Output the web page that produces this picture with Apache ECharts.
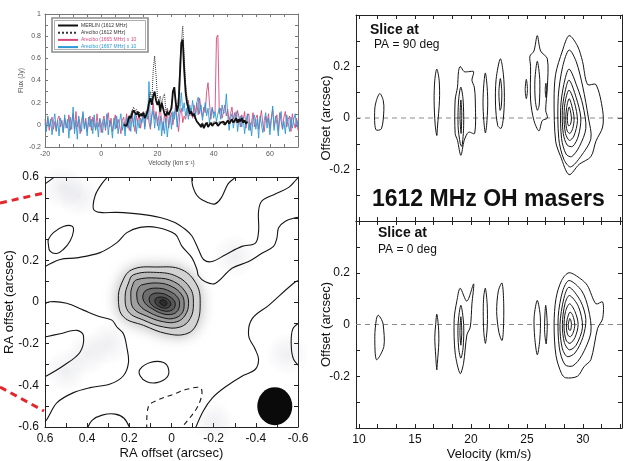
<!DOCTYPE html>
<html>
<head>
<meta charset="utf-8">
<title>1612 MHz OH masers</title>
<script src="https://cdn.jsdelivr.net/npm/echarts@6/dist/echarts.min.js"></script>
<style>
  html, body { margin: 0; padding: 0; background: #fff; }
  #chart { width: 624px; height: 461px; }
</style>
</head>
<body>
<div id="chart"></div>
<script>
// ---- spectrum (top left) ----
// channel grid of the single dish spectra
const velStart = -20, velStep = 0.5;
const pink1665 = [
  0.05,-0.03,0.06,-0.05,0.02,0.07,-0.04,0.03,-0.06,0.05,0.08,-0.02,0.04,-0.07,0.06,0.0,-0.03,0.09,-0.05,0.03,0.1,
  -0.04,0.12,-0.02,0.05,-0.08,0.04,0.1,-0.03,0.06,-0.06,0.02,0.08,-0.05,0.07,0.01,-0.04,0.1,-0.02,0.05,-0.07,
  0.03,0.08,-0.05,0.04,0.11,-0.02,0.06,-0.06,0.02,0.09,-0.03,0.05,0.0,-0.08,0.04,0.07,-0.04,0.1,0.02,-0.05,
  0.06,0.13,0.01,-0.06,0.08,0.03,0.1,-0.03,0.05,0.12,-0.02,0.07,0.15,0.02,-0.04,0.09,0.2,0.05,0.12,-0.01,
  0.08,0.16,0.03,-0.05,0.1,0.02,0.14,-0.03,0.06,0.11,0.0,0.09,0.18,0.04,-0.06,0.1,0.15,0.02,0.08,0.05,
  0.12,0.22,0.08,0.15,0.06,0.18,0.1,0.2,0.09,0.24,0.14,0.07,0.16,0.11,0.3,0.38,0.2,0.05,0.15,0.1,
  0.12,0.79,0.81,0.1,0.15,0.06,0.12,0.18,0.08,0.14,0.03,0.1,0.16,0.05,0.11,0.02,0.13,0.07,-0.02,0.09,
  0.04,0.12,-0.03,0.07,0.1,-0.05,0.03,0.11,-0.02,0.06,0.09,-0.04,0.05,0.13,0.0,-0.06,0.08,0.02,0.1,-0.03,
  0.06,0.14,-0.02,0.04,0.09,-0.05,0.11,0.03,-0.04,0.07,0.12,-0.02,0.05,0.08,-0.06,0.1,0.02,-0.03,0.06,-0.05
];
const blue1667 = [
  0.02,-0.06,0.08,-0.02,0.05,-0.09,0.03,0.1,-0.05,0.04,-0.1,0.06,0.01,-0.07,0.09,-0.03,0.05,-0.12,0.07,-0.04,0.16,
  -0.08,0.04,-0.13,0.08,0.0,-0.06,0.12,-0.04,0.03,-0.1,0.07,-0.02,0.05,-0.08,0.09,-0.05,0.02,-0.11,0.06,0.01,
  -0.07,0.05,-0.03,0.1,-0.09,0.04,0.0,-0.12,0.06,-0.04,0.08,-0.08,0.03,0.1,-0.05,0.02,-0.1,0.07,-0.03,0.05,
  -0.06,0.08,-0.02,0.1,-0.08,0.04,-0.03,0.06,0.02,0.1,-0.04,0.12,0.05,0.39,-0.02,0.08,0.13,-0.03,0.1,0.05,
  -0.05,0.08,-0.1,0.03,-0.08,0.06,-0.11,0.02,0.09,-0.04,0.12,0.05,0.15,-0.02,0.1,0.15,0.29,0.12,0.2,0.08,
  0.15,0.05,0.18,0.1,0.22,0.12,0.06,0.2,0.25,0.1,0.18,0.04,0.12,0.2,0.08,0.15,0.02,0.1,0.16,0.06,
  0.12,0.03,0.1,0.15,0.05,0.18,0.1,0.12,0.28,0.09,-0.05,0.06,0.1,-0.03,0.05,0.12,-0.06,0.04,0.08,-0.02,
  0.07,-0.08,0.03,0.1,-0.05,0.02,-0.1,0.06,0.09,-0.04,0.05,-0.12,0.08,0.0,-0.07,0.04,0.11,-0.03,0.06,-0.09,
  0.04,0.17,-0.05,0.08,0.01,-0.1,0.06,0.12,-0.04,0.03,-0.08,0.09,0.02,-0.06,0.07,-0.03,0.05,0.1,-0.02,0.04
];
const merlinStart = 8;
const merlin1612 = [
  0.0,0.01,-0.01,0.03,0.08,0.06,0.1,0.13,0.11,0.09,
  0.12,0.07,0.1,0.08,0.11,0.06,0.09,0.12,0.2,0.24,
  0.18,0.26,0.3,0.22,0.18,0.22,0.12,0.2,0.15,0.1,
  0.08,0.12,0.09,0.1,0.15,0.3,0.34,0.2,0.12,0.18,
  0.45,0.74,0.77,0.5,0.3,0.2,0.15,0.1,0.12,0.08,
  0.1,0.06,0.03,0.02,0.0,-0.02,0.01,-0.03,0.0,0.02,
  -0.02,0.0,0.02,-0.01,0.01,0.0,0.02,-0.01,0.0,0.02,
  0.01,0.03,0.0,0.02,0.04,0.01,0.03,0.05,0.02,0.04,
  0.06,0.02,0.05,0.03,0.06,0.02,0.04,0.01,0.03
];
const areciboStart = 10;
const arecibo1612 = [
  0.05,0.1,0.13,0.16,0.12,0.14,0.1,0.12,0.08,0.11,
  0.09,0.1,0.12,0.15,0.22,0.3,0.2,0.5,0.62,0.45,
  0.25,0.22,0.26,0.18,0.25,0.28,0.12,0.15,0.1,0.12,
  0.18,0.28,0.3,0.22,0.15,0.25,0.55,0.74,0.89,0.62,
  0.38,0.25,0.18,0.14,0.12,0.1,0.08,0.05,0.04,0.02,
  0.01,0.0,0.02,-0.01,0.01,0.0,0.02,0.01,0.0,0.02,
  0.01,0.03,0.0,0.02,0.01,0.03,0.02,0.0,0.03,0.01,
  0.04,0.02,0.03,0.05,0.02,0.04,0.03,0.05,0.02,0.04,
  0.03
];

// ---- MERLIN map (bottom left), RA / Dec offsets in arcsec ----
const blobLevels = [
  [[0.188,0.155],[0.07,0.168],[-0.049,0.155],[-0.12,0.082],[-0.136,-0.006],[-0.12,-0.104],[-0.073,-0.152],[0.022,-0.152],[0.133,-0.112],[0.228,-0.071],[0.252,0.01],[0.236,0.091]],
  [[0.18,0.131],[0.07,0.142],[-0.025,0.123],[-0.089,0.066],[-0.104,-0.006],[-0.089,-0.079],[-0.041,-0.12],[0.038,-0.12],[0.133,-0.087],[0.204,-0.047],[0.22,0.026],[0.204,0.091]],
  [[0.165,0.107],[0.07,0.115],[-0.009,0.099],[-0.065,0.05],[-0.081,-0.006],[-0.065,-0.063],[-0.025,-0.095],[0.038,-0.095],[0.117,-0.068],[0.18,-0.031],[0.193,0.034],[0.184,0.082]],
  [[0.141,0.082],[0.062,0.091],[-0.002,0.074],[-0.049,0.034],[-0.06,-0.01],[-0.049,-0.055],[-0.009,-0.079],[0.038,-0.076],[0.101,-0.052],[0.152,-0.015],[0.165,0.034],[0.157,0.066]],
  [[0.117,0.058],[0.057,0.066],[0.006,0.05],[-0.03,0.021],[-0.038,-0.015],[-0.025,-0.047],[0.006,-0.06],[0.046,-0.055],[0.089,-0.034],[0.125,-0.006],[0.136,0.029]],
  [[0.093,0.037],[0.051,0.042],[0.014,0.029],[-0.013,0.006],[-0.017,-0.019],[-0.002,-0.039],[0.03,-0.044],[0.062,-0.034],[0.093,-0.015],[0.106,0.013]],
  [[0.073,0.018],[0.041,0.023],[0.014,0.01],[0.003,-0.01],[0.014,-0.026],[0.038,-0.029],[0.063,-0.019],[0.078,-0.002]],
  [[0.054,0.006],[0.035,0.01],[0.022,-0.003],[0.027,-0.016],[0.043,-0.016],[0.054,-0.006]]
];
const blobShades = ['#d6d6d6','#bababa','#a0a0a0','#878787','#6e6e6e','#575757','#414141','#2c2c2c'];
const mapPaths = [
  [[0.285,0.62],[0.33,0.568],[0.362,0.511],[0.37,0.446],[0.339,0.43],[0.259,0.43],[0.149,0.422],[0.054,0.406],[-0.016,0.382],[-0.065,0.349],[-0.097,0.317],[-0.128,0.252],[-0.152,0.204],[-0.192,0.194],[-0.256,0.227],[-0.334,0.267],[-0.398,0.283],[-0.413,0.34],[-0.413,0.437],[-0.429,0.485],[-0.492,0.518],[-0.556,0.55],[-0.587,0.582],[-0.61,0.61]],
  [[-0.097,0.62],[-0.1,0.559],[-0.128,0.503],[-0.176,0.476],[-0.207,0.471],[-0.236,0.5],[-0.269,0.568],[-0.302,0.597],[-0.33,0.62]],
  [[0.61,0.164],[0.528,0.204],[0.449,0.212],[0.339,0.237],[0.259,0.285],[0.212,0.333],[0.149,0.358],[0.069,0.358],[-0.018,0.325],[-0.049,0.268],[-0.097,0.212],[-0.121,0.155],[-0.128,0.126],[-0.16,0.097],[-0.207,0.089],[-0.287,0.162],[-0.366,0.194],[-0.429,0.234],[-0.484,0.267],[-0.5,0.307],[-0.508,0.356],[-0.54,0.388],[-0.588,0.404],[-0.61,0.408]],
  [[-0.61,0.102],[-0.588,0.097],[-0.461,-0.016],[-0.382,-0.081],[-0.366,-0.162],[-0.397,-0.227],[-0.413,-0.275],[-0.397,-0.324],[-0.334,-0.356],[-0.255,-0.408],[-0.193,-0.461],[-0.15,-0.524],[-0.112,-0.61]],
  [[0.61,-0.015],[0.576,0.001],[0.497,-0.006],[0.418,-0.039],[0.339,-0.071],[0.283,-0.087],[0.259,-0.12],[0.228,-0.152],[0.212,-0.217],[0.204,-0.29],[0.228,-0.354],[0.291,-0.394],[0.386,-0.411],[0.465,-0.435],[0.544,-0.484],[0.592,-0.565],[0.61,-0.58]],
  [[0.61,-0.17],[0.528,-0.152],[0.449,-0.136],[0.418,-0.16],[0.434,-0.241],[0.513,-0.306],[0.592,-0.354],[0.61,-0.36]],
  [[0.4,-0.61],[0.377,-0.568],[0.329,-0.543],[0.267,-0.538],[0.225,-0.558],[0.196,-0.61]],
  [[0.61,0.56],[0.575,0.585],[0.545,0.61]],
  [[-0.61,-0.097],[-0.575,-0.13],[-0.568,-0.209],[-0.579,-0.275],[-0.61,-0.311]]
];
const mapLoops = [
  [[0.584,0.3],[0.56,0.333],[0.513,0.362],[0.473,0.365],[0.465,0.341],[0.481,0.293],[0.513,0.252],[0.544,0.233],[0.576,0.244],[0.584,0.277]],
  [[0.149,-0.322],[0.101,-0.29],[0.038,-0.29],[0.014,-0.322],[0.022,-0.362],[0.069,-0.387],[0.117,-0.383],[0.149,-0.354]]
];
const mapNegative = [
  [[0.117,-0.61],[0.109,-0.5],[0.069,-0.472],[-0.009,-0.443],[-0.073,-0.419],[-0.136,-0.411],[-0.144,-0.443],[-0.121,-0.508],[-0.073,-0.573],[-0.041,-0.61]]
];
// faint background emission patches
const mapHaze = [[0.52,0.55],[0.44,0.51],[0.5,-0.33],[0.4,-0.25],[0.3,-0.2],[-0.2,-0.58],[-0.3,0.22],[-0.55,-0.25]];
const beam = [[-0.49,-0.5]];

// ---- position-velocity slices (right), velocity km/s vs offset arcsec ----
const slicePA90 = [
  [[11.86,0.095],[12.16,0.069],[12.22,0.03],[12.0,-0.042],[11.5,-0.045],[11.4,0.03],[11.56,0.069]],
  [[16.95,0.19],[17.16,0.147],[17.19,0.069],[17.01,-0.035],[16.95,-0.068],[16.8,-0.023],[16.71,0.069],[16.77,0.147]],
  [[19.04,0.2],[19.4,0.18],[19.79,0.18],[20.24,0.18],[20.09,0.147],[20.3,0.12],[20.39,0.07],[20.33,-0.06],[19.79,-0.055],[19.4,-0.087],[19.1,-0.145],[18.8,-0.087],[18.59,-0.06],[18.59,0.07],[18.8,0.12],[18.89,0.18]],
  [[19.1,0.12],[19.3,0.07],[19.35,-0.03],[19.2,-0.11],[19.05,-0.1],[18.85,-0.03],[18.9,0.07]],
  [[19.1,0.07],[19.18,0.02],[19.12,-0.06],[19.03,0.0]],
  [[21.29,0.175],[21.45,0.12],[21.5,0.05],[21.4,-0.03],[21.29,-0.058],[21.15,-0.01],[21.08,0.06],[21.15,0.13]],
  [[22.63,0.23],[22.9,0.17],[22.99,0.08],[22.9,0.0],[22.7,-0.04],[22.4,-0.03],[22.2,0.05],[22.25,0.15]],
  [[22.63,0.153],[22.76,0.1],[22.7,0.04],[22.6,0.03],[22.5,0.1]],
  [[25.93,0.32],[26.23,0.26],[26.83,0.23],[26.83,0.12],[26.68,0.03],[26.83,0.0],[26.38,-0.01],[26.08,-0.05],[25.63,-0.01],[25.33,0.07],[25.33,0.2],[25.27,0.24],[25.63,0.26]],
  [[25.93,0.22],[26.15,0.15],[26.1,0.05],[25.93,0.03],[25.75,0.07],[25.72,0.15]],
  [[24.95,0.15],[25.05,0.11],[24.95,0.075],[24.85,0.11]],
  [[26.7,0.135],[26.76,0.11],[26.7,0.08],[26.64,0.11]],
  [[28.77,0.32],[28.17,0.26],[27.57,0.17],[27.43,0.07],[27.57,-0.09],[28.02,-0.15],[28.77,-0.22],[29.67,-0.18],[30.72,-0.15],[31.17,-0.09],[31.77,-0.035],[31.77,0.03],[31.17,0.13],[30.42,0.13],[29.97,0.22],[29.52,0.28]],
  [[28.77,0.264],[28.2,0.2],[27.8,0.08],[27.85,-0.08],[28.3,-0.16],[28.9,-0.19],[29.8,-0.15],[30.72,-0.08],[30.5,0.0],[30.0,0.12],[29.4,0.22]],
  [[28.77,0.19],[28.3,0.13],[28.02,0.04],[28.1,-0.08],[28.5,-0.14],[29.0,-0.15],[29.7,-0.11],[30.27,-0.04],[30.0,0.05],[29.5,0.12]],
  [[28.77,0.147],[28.4,0.1],[28.17,0.03],[28.25,-0.06],[28.6,-0.105],[29.1,-0.11],[29.6,-0.07],[29.82,0.0],[29.4,0.08]],
  [[28.77,0.108],[28.45,0.07],[28.32,0.01],[28.45,-0.06],[28.8,-0.087],[29.2,-0.07],[29.52,-0.01],[29.25,0.06]],
  [[28.77,0.075],[28.55,0.04],[28.47,-0.01],[28.6,-0.05],[28.85,-0.06],[29.1,-0.04],[29.22,0.0],[29.0,0.05]],
  [[28.78,0.043],[28.65,0.02],[28.62,-0.01],[28.72,-0.03],[28.9,-0.025],[28.98,0.0],[28.88,0.03]]
];
const slicePA0 = [
  [[11.71,0.036],[12.0,0.02],[12.16,0.0],[12.22,-0.085],[11.56,-0.136],[11.41,-0.047],[11.55,0.02]],
  [[16.95,0.04],[17.1,-0.01],[17.13,-0.07],[17.0,-0.15],[16.95,-0.175],[16.85,-0.12],[16.77,-0.05],[16.85,0.0]],
  [[19.04,0.14],[19.64,0.09],[20.24,0.157],[20.09,0.08],[19.94,-0.01],[19.64,-0.04],[19.34,-0.15],[19.04,-0.19],[18.59,-0.11],[18.5,0.02],[18.74,0.09]],
  [[19.1,0.074],[19.35,0.0],[19.3,-0.09],[19.1,-0.13],[18.9,-0.09],[18.85,0.0]],
  [[19.1,0.03],[19.18,-0.03],[19.1,-0.08],[19.02,-0.03]],
  [[21.29,0.14],[21.45,0.08],[21.47,0.0],[21.38,-0.05],[21.29,-0.073],[21.15,-0.03],[21.1,0.05],[21.15,0.11]],
  [[22.78,0.16],[22.93,0.08],[22.9,-0.02],[22.78,-0.062],[22.5,-0.03],[22.3,0.05],[22.45,0.13]],
  [[25.93,0.093],[26.2,0.03],[26.15,-0.06],[25.93,-0.117],[25.7,-0.05],[25.65,0.03]],
  [[26.68,0.074],[26.82,0.0],[26.72,-0.075],[26.58,-0.02]],
  [[28.77,0.2],[28.1,0.17],[27.6,0.1],[27.43,0.0],[27.6,-0.12],[28.1,-0.19],[28.47,-0.206],[29.52,-0.2],[30.12,-0.162],[30.72,-0.136],[31.32,-0.015],[31.77,0.023],[31.77,0.087],[31.17,0.08],[30.42,0.15],[29.82,0.176]],
  [[28.77,0.17],[28.2,0.13],[27.8,0.03],[27.9,-0.09],[28.4,-0.155],[29.1,-0.16],[29.9,-0.12],[30.72,-0.03],[30.5,0.06],[29.9,0.13]],
  [[28.77,0.144],[28.3,0.1],[27.96,0.0],[28.15,-0.09],[28.6,-0.124],[29.3,-0.11],[30.0,-0.05],[30.27,0.02],[29.8,0.09]],
  [[28.8,0.112],[28.4,0.08],[28.17,0.0],[28.35,-0.07],[28.8,-0.098],[29.4,-0.08],[29.97,-0.01],[29.6,0.07]],
  [[28.82,0.08],[28.45,0.05],[28.32,-0.01],[28.5,-0.06],[28.85,-0.073],[29.3,-0.05],[29.58,0.0],[29.3,0.05]],
  [[28.85,0.048],[28.6,0.02],[28.53,-0.01],[28.65,-0.04],[28.9,-0.047],[29.15,-0.03],[29.28,0.0],[29.1,0.035]],
  [[28.83,0.023],[28.7,0.0],[28.75,-0.02],[28.9,-0.022],[28.98,0.0],[28.92,0.018]]
];
const velRange = [9.73, 33.5];
const velLabels = [10, 15, 20, 25, 30];
const velTickStep = 5 / 3;

const FONT = '"Liberation Sans", Arial, Helvetica, sans-serif';

const velTicks = [];
for (let v = velLabels[0]; v < velRange[1]; v += velTickStep) velTicks.push(+v.toFixed(3));

function axis(gridIndex, position, range, o) {
  const c = o.color || '#222';
  return {
    type: 'value', gridIndex: gridIndex, position: position,
    min: range[0], max: range[1], interval: o.interval, inverse: !!o.inverse,
    splitLine: { show: false },
    axisLine: { onZero: false, lineStyle: { color: c, width: 1 } },
    axisTick: { inside: true, length: o.tickLen || 4, lineStyle: { color: c }, customValues: o.tickValues },
    minorTick: { show: !!o.minor, splitNumber: o.minor || 2, length: o.tickLen || 4, lineStyle: { color: c } },
    axisLabel: {
      show: !!o.labels, color: o.labelColor || '#111', fontSize: o.fontSize || 12, fontFamily: FONT,
      margin: o.margin || 6, showMinLabel: o.showMin !== false, showMaxLabel: o.showMax !== false,
      customValues: o.labelValues
    },
    name: o.name || '', nameLocation: 'middle', nameGap: o.nameGap || 20, nameMoveOverlap: false,
    nameTextStyle: { color: o.labelColor || '#111', fontSize: o.nameSize || 13, fontFamily: FONT }
  };
}

function contours(axisIndex, shapes, o) {
  return {
    type: 'custom', xAxisIndex: axisIndex, yAxisIndex: axisIndex, clip: true, silent: true,
    z: o.z || 3,
    data: shapes.map(s => s[0]),
    renderItem: function (params, api) {
      const pts = shapes[params.dataIndex].map(p => api.coord(p));
      const style = {
        fill: o.fills ? o.fills[params.dataIndex] : null,
        stroke: '#151515', lineWidth: o.width || 1, lineDash: o.dash || null
      };
      if (o.glow && params.dataIndex === 0) {
        style.shadowBlur = 14;
        style.shadowColor = 'rgba(0,0,0,0.3)';
      }
      return {
        type: o.closed ? 'polygon' : 'polyline',
        shape: { points: pts, smooth: o.smooth == null ? 0.35 : o.smooth },
        style: style
      };
    }
  };
}

function spectrum(name, values, start, color, width, type) {
  return {
    type: 'line', name: name, xAxisIndex: 0, yAxisIndex: 0,
    data: values.map((f, i) => [start + i * velStep, f]),
    symbol: 'none', showSymbol: false, silent: true,
    lineStyle: { color: color, width: width, type: type || 'solid' },
    itemStyle: { color: color }
  };
}

const chart = echarts.init(document.getElementById('chart'), null, { renderer: 'canvas' });

chart.setOption({
  animation: false,
  backgroundColor: '#fff',
  grid: [
    { left: 45, top: 14, width: 253, height: 133, outerBoundsMode: 'none' },
    { left: 45, top: 177, width: 253, height: 250, outerBoundsMode: 'none' },
    { left: 356, top: 15, width: 266, height: 206, outerBoundsMode: 'none' },
    { left: 356, top: 221, width: 266, height: 207, outerBoundsMode: 'none' }
  ],
  xAxis: [
    axis(0, 'bottom', [-20, 70], { interval: 20, minor: 4, tickLen: 3, color: '#777', labels: true, labelColor: '#555', fontSize: 7, margin: 4, showMax: false, name: 'Velocity (km s\u207B\u00B9)', nameGap: 13, nameSize: 6.5 }),
    axis(0, 'top', [-20, 70], { interval: 20, minor: 4, tickLen: 3, color: '#777' }),
    axis(1, 'bottom', [-0.6, 0.6], { interval: 0.2, minor: 2, inverse: true, labels: true, name: 'RA offset (arcsec)', nameGap: 20 }),
    axis(1, 'top', [-0.6, 0.6], { interval: 0.2, minor: 2, inverse: true }),
    axis(2, 'bottom', velRange, { tickValues: velTicks }),
    axis(2, 'top', velRange, { tickValues: velTicks }),
    axis(3, 'bottom', velRange, { tickValues: velTicks, labels: true, labelValues: velLabels, name: 'Velocity (km/s)', nameGap: 20 }),
    axis(3, 'top', velRange, { tickValues: velTicks })
  ],
  yAxis: [
    axis(0, 'left', [-0.2, 1], { interval: 0.2, minor: 2, tickLen: 3, color: '#777', labels: true, labelColor: '#555', fontSize: 7, margin: 4, name: 'Flux (Jy)', nameGap: 20, nameSize: 6.5 }),
    axis(0, 'right', [-0.2, 1], { interval: 0.2, minor: 2, tickLen: 3, color: '#777' }),
    axis(1, 'left', [-0.6, 0.6], { interval: 0.2, minor: 2, labels: true, name: 'RA offset (arcsec)', nameGap: 29 }),
    axis(1, 'right', [-0.6, 0.6], { interval: 0.2, minor: 2 }),
    axis(2, 'left', [-0.4, 0.4], { interval: 0.2, minor: 2, labels: true, showMin: false, showMax: false, name: 'Offset (arcsec)', nameGap: 23 }),
    axis(2, 'right', [-0.4, 0.4], { interval: 0.2, minor: 2 }),
    axis(3, 'left', [-0.4, 0.4], { interval: 0.2, minor: 2, labels: true, showMin: false, showMax: false, name: 'Offset (arcsec)', nameGap: 23 }),
    axis(3, 'right', [-0.4, 0.4], { interval: 0.2, minor: 2 })
  ],
  legend: {
    left: 57, top: 22.5, orient: 'vertical', itemGap: 1.2, itemWidth: 20, itemHeight: 5,
    padding: 0, z: 20, selectedMode: false,
    itemStyle: { opacity: 0 },
    textStyle: { fontSize: 5, fontFamily: FONT, lineHeight: 6, color: '#333', padding: [0, 0, 0, -2] },
    data: [
      { name: 'MERLIN (1612 MHz)', textStyle: { color: '#333' } },
      { name: 'Arecibo (1612 MHz)', textStyle: { color: '#333' } },
      { name: 'Arecibo (1665 MHz) x 10', textStyle: { color: '#d6497c' } },
      { name: 'Arecibo (1667 MHz) x 10', textStyle: { color: '#2b98d4' } }
    ]
  },
  graphic: [
    { type: 'rect', z: 10, shape: { x: 52, y: 18, width: 96, height: 34 }, style: { fill: '#fff', stroke: '#8c8c8c', lineWidth: 1.6 } },
    { type: 'rect', z: 11, shape: { x: 54.5, y: 20.5, width: 91, height: 29 }, style: { fill: null, stroke: '#9a9a9a', lineWidth: 0.8 } },
    { type: 'line', z: 30, shape: { x1: 0, y1: 203, x2: 44, y2: 193 }, style: { stroke: '#e3262b', lineWidth: 3, lineDash: [7, 5] } },
    { type: 'line', z: 30, shape: { x1: 0, y1: 387, x2: 44, y2: 411 }, style: { stroke: '#e3262b', lineWidth: 3, lineDash: [7, 5] } },
    { type: 'text', z: 30, left: 370, top: 23, style: { text: 'Slice at', font: 'bold 14px ' + FONT, fill: '#111' } },
    { type: 'text', z: 30, left: 374, top: 39, style: { text: 'PA = 90 deg', font: '12px ' + FONT, fill: '#111' } },
    { type: 'text', z: 30, left: 372, top: 188, style: { text: '1612 MHz OH masers', font: 'bold 23px ' + FONT, fill: '#111' } },
    { type: 'text', z: 30, left: 378, top: 226, style: { text: 'Slice at', font: 'bold 14px ' + FONT, fill: '#111' } },
    { type: 'text', z: 30, left: 378, top: 244, style: { text: 'PA = 0 deg', font: '12px ' + FONT, fill: '#111' } }
  ],
  series: [
    spectrum('Arecibo (1665 MHz) x 10', pink1665, velStart, '#d6497c', 0.9),
    spectrum('Arecibo (1667 MHz) x 10', blue1667, velStart, '#2b98d4', 0.9),
    spectrum('Arecibo (1612 MHz)', arecibo1612, areciboStart, '#333', 1, 'dotted'),
    spectrum('MERLIN (1612 MHz)', merlin1612, merlinStart, '#111', 1.8),

    {
      type: 'scatter', xAxisIndex: 2, yAxisIndex: 2, data: mapHaze, silent: true, z: 1,
      symbolSize: 44,
      itemStyle: {
        color: {
          type: 'radial', x: 0.5, y: 0.5, r: 0.5,
          colorStops: [{ offset: 0, color: 'rgba(150,152,170,0.2)' }, { offset: 1, color: 'rgba(150,152,170,0)' }]
        }
      }
    },
    contours(2, blobLevels, { closed: true, fills: blobShades, glow: true, z: 3, smooth: 0.4 }),
    contours(2, mapPaths, { z: 4, width: 1.1 }),
    contours(2, mapLoops, { closed: true, z: 4, width: 1.1, smooth: 0.4 }),
    contours(2, mapNegative, { z: 4, width: 1.1, dash: [5, 4] }),
    {
      type: 'scatter', xAxisIndex: 2, yAxisIndex: 2, data: beam, silent: true, z: 5,
      symbol: 'circle', symbolSize: [35, 38], itemStyle: { color: '#0a0a0a', opacity: 1 }
    },

    {
      type: 'line', xAxisIndex: 4, yAxisIndex: 4, data: [[velRange[0], 0], [velRange[1], 0]],
      symbol: 'none', silent: true, z: 2, lineStyle: { color: '#8a8a8a', width: 1, type: [5, 4] }
    },
    contours(4, slicePA90, { closed: true, z: 3, smooth: 0.3 }),
    {
      type: 'line', xAxisIndex: 6, yAxisIndex: 6, data: [[velRange[0], 0], [velRange[1], 0]],
      symbol: 'none', silent: true, z: 2, lineStyle: { color: '#8a8a8a', width: 1, type: [5, 4] }
    },
    contours(6, slicePA0, { closed: true, z: 3, smooth: 0.3 })
  ]
});
</script>
</body>
</html>
